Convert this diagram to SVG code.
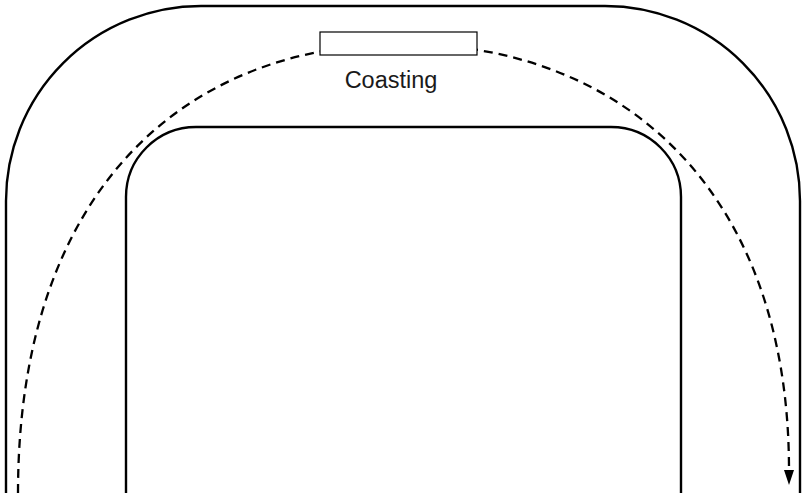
<svg xmlns="http://www.w3.org/2000/svg" width="802" height="493" viewBox="0 0 802 493">
  <style>
    .track { fill: none; stroke: #000; stroke-width: 2.4; }
    .flow { fill: none; stroke: #000; stroke-width: 2.3; stroke-dasharray: 9 6; }
    .box { fill: #fff; stroke: #000; stroke-width: 1.2; }
    .label { font-family: "Liberation Sans", Arial, sans-serif; font-size: 23.5px; fill: #1a1a1a; text-anchor: middle; }
  </style>
  <defs>
    <marker id="arrow" markerWidth="16" markerHeight="12" refX="0" refY="0" orient="auto" markerUnits="userSpaceOnUse" viewBox="0 -6 16 12">
      <path d="M0,-5 L15,0 L0,5 Z" fill="#000"/>
    </marker>
  </defs>

  <!-- outer and inner edges of the track -->
  <g id="track">
    <path class="track" d="M6,493 V201 A195,195 0 0 1 201,6 H605 A195,195 0 0 1 800,201 V493"/>
    <path class="track" d="M126,493 V197 A70,70 0 0 1 196,127 H611 A70,70 0 0 1 681,197 V493"/>
  </g>

  <!-- travel path around the bend -->
  <g id="connectors">
    <path class="flow" d="M18,493 C18,190 185,44 403.5,44 C622,44 789,190 789,470" marker-end="url(#arrow)"/>
  </g>

  <g id="coasting">
    <rect class="box" x="320" y="32" width="157" height="23"/>
    <text class="label" x="391" y="88">Coasting</text>
  </g>
</svg>
